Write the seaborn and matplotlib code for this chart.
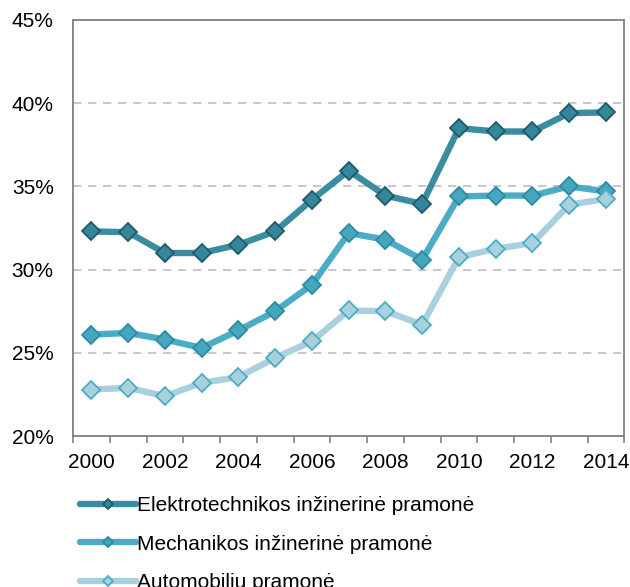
import numpy as np
import pandas as pd
import matplotlib
matplotlib.use("Agg")
import matplotlib.pyplot as plt
from matplotlib.ticker import FixedLocator, FuncFormatter
import seaborn as sns

years = list(range(2000, 2015))
elektro = [32.3, 32.25, 31.0, 31.0, 31.5, 32.3, 34.2, 35.95, 34.45, 33.95, 38.5, 38.3, 38.3, 39.4, 39.45]
mechanika = [26.1, 26.2, 25.8, 25.3, 26.35, 27.5, 29.1, 32.2, 31.8, 30.6, 34.4, 34.45, 34.45, 35.0, 34.7]
auto = [22.8, 22.9, 22.4, 23.2, 23.55, 24.7, 25.7, 27.55, 27.5, 26.7, 30.75, 31.25, 31.6, 33.9, 34.25]
names = ["Elektrotechnikos inžinerinė pramonė", "Mechanikos inžinerinė pramonė", "Automobiliu pramonė"]

sns.set_style("white")
plt.rcParams["font.family"] = ["Liberation Sans", "DejaVu Sans"]
plt.rcParams["text.color"] = "black"
plt.rcParams["xtick.color"] = "black"
plt.rcParams["ytick.color"] = "black"

fig = plt.figure(figsize=(6.3, 5.87), dpi=100)
ax = fig.add_axes([0.116, 0.257, 0.875, 0.709])

styles = [
    dict(color="#3A8CA0", mfc="#35869B", mec="#1F5A68"),
    dict(color="#4BACC6", mfc="#45A6C0", mec="#2E8AA3"),
    dict(color="#A8D0DD", mfc="#A8D0DD", mec="#4BACC6"),
]
for vals, name, st in zip([elektro, mechanika, auto], names, styles):
    sns.lineplot(x=years, y=vals, ax=ax, color=st["color"], linewidth=4.6,
                 marker="D", markersize=9.5, markerfacecolor=st["mfc"],
                 markeredgecolor=st["mec"], markeredgewidth=1.3, label=name)

ax.set_xlim(1999.5, 2014.5)
ax.set_ylim(20, 45)
ax.set_yticks([20, 25, 30, 35, 40, 45])
ax.yaxis.set_major_formatter(FuncFormatter(lambda v, p: f"{v:.0f}%"))
ax.set_xticks(years[::2])
ax.set_xticklabels([str(y) for y in years[::2]])
ax.xaxis.set_minor_locator(FixedLocator(np.arange(1999.5, 2015, 1)))
ax.tick_params(axis="x", which="minor", length=5, width=1.2, color="#808080", direction="out", bottom=True)
ax.tick_params(axis="x", which="major", length=0, pad=12, labelsize=15)
ax.tick_params(axis="y", length=0, pad=14, labelsize=15)

for y in [25, 30, 35, 40]:
    ax.axhline(y, color="#BFBFBF", linestyle=(0, (5, 4)), linewidth=1.2, zorder=0)
for s in ax.spines.values():
    s.set_visible(True)
    s.set_color("#808080")
    s.set_linewidth(1.3)

ax.legend(loc="upper left", bbox_to_anchor=(0.113, 0.169), bbox_transform=fig.transFigure,
          frameon=False, fontsize=15, handlelength=2.7, handletextpad=0.05,
          labelspacing=0.94, markerscale=0.55, borderaxespad=0)

fig.savefig("out.png", dpi=100)
